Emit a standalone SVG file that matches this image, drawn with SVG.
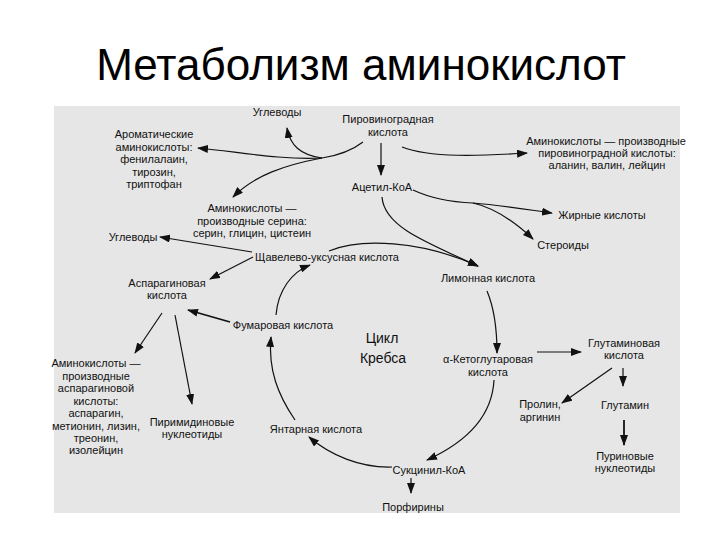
<svg xmlns="http://www.w3.org/2000/svg" width="720" height="540" viewBox="0 0 720 540">
<style>
.t{font-family:"Liberation Sans Narrow","Liberation Sans",Arial,sans-serif;font-size:11px;fill:#111;text-anchor:middle}
.big{font-size:14px}
.title{font-family:"Liberation Sans",Arial,sans-serif;font-size:44px;fill:#000;text-anchor:middle}
.c{fill:none;stroke:#111;stroke-width:1.2;marker-end:url(#ah)}
.n{fill:none;stroke:#111;stroke-width:1.2}
.th{stroke-width:1.8}
</style>
<defs>
<marker id="ah" markerUnits="userSpaceOnUse" markerWidth="11" markerHeight="8" refX="10" refY="4" orient="auto">
<path d="M0,0 L11,4 L0,8 z" fill="#111"/>
</marker>
</defs>
<rect width="720" height="540" fill="#fff"/>
<text id="title" class="title" x="361" y="80">Метаболизм аминокислот</text>
<rect x="54" y="106" width="626" height="407" fill="#e6e6e6"/>

<g id="connectors">
<path class="n" d="M363 142 C350 152,335 156,322 158"/>
<path class="c" d="M322 158 C285 165,255 175,233 197"/>
<path class="c" d="M322 158 C300 155,290 145,287 128"/>
<path class="c" d="M322 158 C280 160,240 152,198 148"/>
<path class="c" d="M381 143 L381 175"/>
<path class="c" d="M402 147 C430 158,480 156,527 153"/>
<path class="n" d="M413 190 C430 198,450 202,473 203"/>
<path class="c" d="M473 203 C500 205,530 210,552 213"/>
<path class="c" d="M473 203 C495 208,515 222,533 239"/>
<path class="c" d="M382 197 C384 225,420 240,478 266"/>
<path class="c" d="M329 251 C360 238,420 240,478 266"/>
<path class="c" d="M487 291 C495 310,497 330,497 353"/>
<path class="c" d="M494 380 C492 420,460 445,427 460"/>
<path class="c" d="M392 467 C360 468,330 455,309 437"/>
<path class="c" d="M295 420 C278 395,268 370,271 337"/>
<path class="c" d="M276 315 C278 290,292 272,310 265"/>
<path class="c th" d="M230 322 L188 310"/>
<path class="c" d="M253 257 L210 279"/>
<path class="c" d="M252 252 L160 237"/>
<path class="c" d="M162 313 L135 353"/>
<path class="c" d="M175 315 L192 404"/>
<path class="c" d="M537 352 L581 352"/>
<path class="c" d="M612 368 L562 403"/>
<path class="c" d="M623 368 L623 386"/>
<path class="c th" d="M624 420 L624 445"/>
<path class="c" d="M411 478 L411 493"/>
</g>

<g id="uglevody1"><text class="t" x="277" y="116">Углеводы</text></g>
<g id="pyruvate"><text class="t" x="388" y="123">Пировиноградная</text><text class="t" x="388" y="136">кислота</text></g>
<g id="aromatic"><text class="t" x="154" y="138">Ароматические</text><text class="t" x="154" y="151">аминокислоты:</text><text class="t" x="154" y="163">фенилалаин,</text><text class="t" x="154" y="176">тирозин,</text><text class="t" x="154" y="188">триптофан</text></g>
<g id="pyr-aa"><text class="t" x="606" y="145">Аминокислоты — производные</text><text class="t" x="607" y="157">пировиноградной кислоты:</text><text class="t" x="607" y="169">аланин, валин, лейцин</text></g>
<g id="acetyl"><text class="t" x="382" y="191">Ацетил-КоА</text></g>
<g id="serine-aa"><text class="t" x="252" y="212">Аминокислоты —</text><text class="t" x="252" y="225">производные серина:</text><text class="t" x="252" y="237">серин, глицин, цистеин</text></g>
<g id="fatty"><text class="t" x="602" y="219">Жирные кислоты</text></g>
<g id="steroids"><text class="t" x="563" y="249">Стероиды</text></g>
<g id="uglevody2"><text class="t" x="133" y="241">Углеводы</text></g>
<g id="oxaloacetate"><text class="t" x="327" y="261">Щавелево-уксусная кислота</text></g>
<g id="citrate"><text class="t" x="488" y="282">Лимонная кислота</text></g>
<g id="aspartate"><text class="t" x="167" y="287">Аспарагиновая</text><text class="t" x="167" y="299">кислота</text></g>
<g id="fumarate"><text class="t" x="283" y="329">Фумаровая кислота</text></g>
<g id="krebs"><text class="t big" x="382" y="343">Цикл</text><text class="t big" x="383" y="363">Кребса</text></g>
<g id="ketoglutarate"><text class="t" x="488" y="363">α-Кетоглутаровая</text><text class="t" x="488" y="376">кислота</text></g>
<g id="glutamate"><text class="t" x="624" y="347">Глутаминовая</text><text class="t" x="624" y="359">кислота</text></g>
<g id="asp-aa"><text class="t" x="96" y="367">Аминокислоты —</text><text class="t" x="96" y="380">производные</text><text class="t" x="96" y="392">аспарагиновой</text><text class="t" x="96" y="405">кислоты:</text><text class="t" x="96" y="417">аспарагин,</text><text class="t" x="96" y="430">метионин, лизин,</text><text class="t" x="96" y="442">треонин,</text><text class="t" x="96" y="454">изолейцин</text></g>
<g id="proline"><text class="t" x="540" y="408">Пролин,</text><text class="t" x="540" y="421">аргинин</text></g>
<g id="glutamine"><text class="t" x="625" y="409">Глутамин</text></g>
<g id="purines"><text class="t" x="625" y="460">Пуриновые</text><text class="t" x="625" y="472">нуклеотиды</text></g>
<g id="pyrimidines"><text class="t" x="192" y="426">Пиримидиновые</text><text class="t" x="192" y="438">нуклеотиды</text></g>
<g id="succinate"><text class="t" x="316" y="433">Янтарная кислота</text></g>
<g id="succinylcoa"><text class="t" x="429" y="474">Сукцинил-КоА</text></g>
<g id="porphyrins"><text class="t" x="413" y="511">Порфирины</text></g>
</svg>
